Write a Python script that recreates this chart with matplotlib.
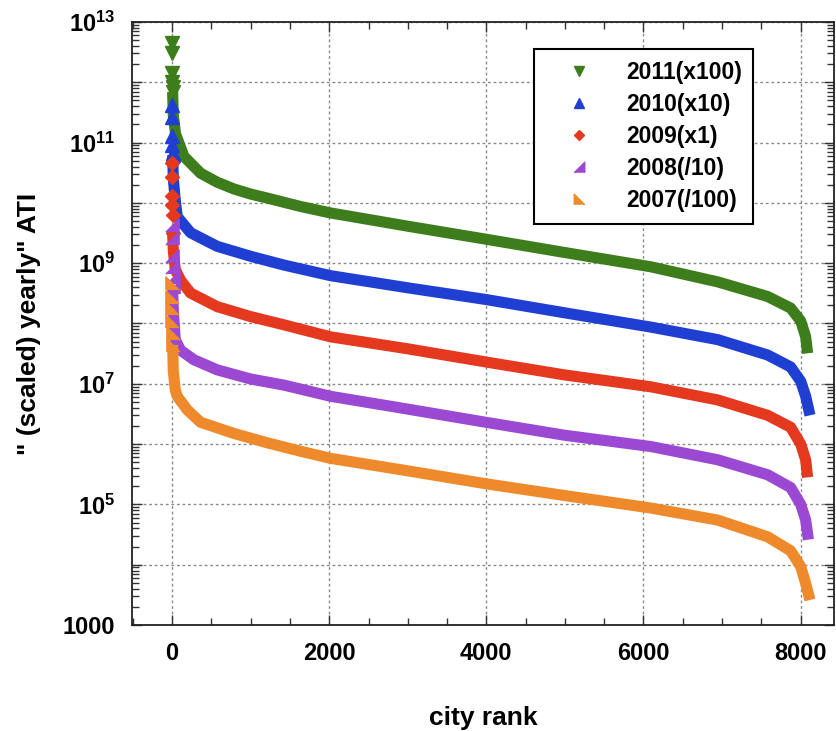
import numpy as np
import matplotlib
matplotlib.use("Agg")
import matplotlib.pyplot as plt
from matplotlib.ticker import LogLocator, FixedLocator, FuncFormatter, NullFormatter

# ============================================================================
# DATA
# ============================================================================

RANK_2011 = [1, 2, 3, 4, 5, 6, 15, 43, 150, 362, 574, 786, 999, 1211, 1636,
             2017, 3000, 3992, 5000, 6095, 6944, 7581, 7874, 8002, 8065, 8090]
ATI_2011 = [4.5e12, 3.0e12, 1.4e12, 1.0e12, 8.3e11, 6.9e11, 2.8e11, 1.4e11,
            5.9e10, 3.1e10, 2.2e10, 1.7e10, 1.4e10, 1.2e10, 8.7e9,
            6.8e9, 4.1e9, 2.5e9, 1.5e9, 8.7e8, 4.9e8, 2.8e8, 1.8e8, 1.1e8,
            6.0e7, 3.2e7]

RANK_2010 = [1, 2, 3, 4, 5, 6, 15, 40, 65, 234, 574, 999, 1423, 2017, 3000,
             3992, 5000, 6095, 6944, 7581, 7874, 8002, 8065, 8120]
ATI_2010 = [4.2e11, 2.7e11, 1.3e11, 9.1e10, 6.6e10, 6.2e10, 2.5e10, 1.1e10,
            5.9e9, 3.2e9, 1.9e9, 1.3e9, 9.3e8, 6.2e8, 3.9e8,
            2.5e8, 1.5e8, 8.7e7, 5.4e7, 3.0e7, 1.9e7, 1.1e7, 6.2e6, 3.0e6]

RANK_2009 = [1, 2, 3, 4, 5, 6, 15, 40, 107, 234, 574, 999, 1423, 2017, 3000,
             3992, 5000, 6095, 6944, 7581, 7874, 8002, 8065, 8090]
ATI_2009 = [4.5e10, 2.7e10, 1.3e10, 9.3e9, 6.3e9, 3.2e9, 1.6e9, 7.9e8,
            5.2e8, 3.2e8, 1.9e8, 1.3e8, 9.5e7, 6.0e7, 3.8e7,
            2.3e7, 1.4e7, 8.9e6, 5.4e6, 3.0e6, 1.9e6, 1.0e6, 5.5e5, 2.8e5]

RANK_2008 = [1, 2, 3, 4, 5, 6, 15, 40, 107, 277, 574, 999, 1423, 2017, 3000,
             3992, 5000, 6095, 6944, 7581, 7874, 8002, 8065, 8100]
ATI_2008 = [4.3e9, 2.6e9, 1.3e9, 8.7e8, 6.0e8, 4.0e8, 1.6e8, 5.4e7,
            3.6e7, 2.5e7, 1.7e7, 1.2e7, 9.5e6, 6.2e6, 3.8e6,
            2.3e6, 1.4e6, 9.1e5, 5.5e5, 3.1e5, 1.9e5, 1.0e5, 5.5e4, 2.6e4]

RANK_2007 = [1, 2, 3, 4, 5, 6, 15, 40, 65, 192, 362, 786, 1211, 1636, 2017,
             3000, 3992, 5000, 6095, 6944, 7581, 7874, 8002, 8065, 8120]
ATI_2007 = [4.7e8, 2.8e8, 1.8e8, 1.1e8, 6.9e7, 4.4e7, 1.6e7, 7.9e6,
            6.2e6, 3.7e6, 2.3e6, 1.5e6, 1.05e6, 7.6e5, 5.8e5,
            3.6e5, 2.2e5, 1.4e5, 8.7e4, 5.5e4, 2.9e4, 1.7e4, 9.3e3, 4.9e3, 2.6e3]

LABELS = ['2011(x100)', '2010(x10)', '2009(x1)', '2008(/10)', '2007(/100)']
X_TICKS = [0, 2000, 4000, 6000, 8000]

# ============================================================================
# STYLE
# ============================================================================

COLORS = ['#3d7d1c', '#1f3fd2', '#e4391f', '#9b48d2', '#ee8a2c']
MARKERS = ['v', '^', 'D',
           [(1, -1), (1, 1), (-1, -1)],     # right angle bottom-right
           [(-1, -1), (-1, 1), (1, -1)]]    # right angle bottom-left
MSIZES = [9.5, 9.5, 7, 9.5, 9.5]
N_TOP = 6   # top-ranked cities drawn as separate markers

plt.rcParams['font.family'] = ['Liberation Sans', 'DejaVu Sans']
plt.rcParams['font.weight'] = 'bold'
plt.rcParams['mathtext.fontset'] = 'custom'
plt.rcParams['mathtext.rm'] = 'Liberation Sans:bold'
plt.rcParams['mathtext.bf'] = 'Liberation Sans:bold'


def y_label_fmt(val, pos):
    exp = int(round(np.log10(val)))
    if exp % 2 == 0 or exp < 3 or exp > 13:
        return ''
    if exp == 3:
        return '1000'
    return r'$\mathbf{10^{%d}}$' % exp


def main():
    fig = plt.figure(figsize=(8.36, 7.31), dpi=100)
    ax = fig.add_axes([0.158, 0.145, 0.840, 0.825])

    ranks = [RANK_2011, RANK_2010, RANK_2009, RANK_2008, RANK_2007]
    series = [ATI_2011, ATI_2010, ATI_2009, ATI_2008, ATI_2007]
    for rk, vals, col, mk, ms, lab in zip(ranks, series, COLORS, MARKERS,
                                          MSIZES, LABELS):
        # dense band of cities
        ax.plot(rk[N_TOP - 1:], vals[N_TOP - 1:], '-', color=col, lw=8,
                solid_capstyle='butt', solid_joinstyle='round', zorder=2)
        # separated top-ranked cities
        ax.plot(rk[:N_TOP], vals[:N_TOP], linestyle='none', marker=mk,
                ms=ms, color=col, mec=col, zorder=3, label=lab)

    ax.set_yscale('log')
    ax.set_ylim(1e3, 1e13)
    ax.set_xlim(-510, 8430)

    ax.yaxis.set_major_locator(LogLocator(base=10, numticks=20))
    ax.yaxis.set_minor_locator(LogLocator(base=10, subs=np.arange(2, 10), numticks=200))
    ax.yaxis.set_major_formatter(FuncFormatter(y_label_fmt))
    ax.yaxis.set_minor_formatter(NullFormatter())
    ax.xaxis.set_major_locator(FixedLocator(X_TICKS))
    ax.xaxis.set_minor_locator(FixedLocator(np.arange(-500, 8500, 500)))

    ax.tick_params(which='both', direction='in', top=True, right=True,
                   width=1, color='#333333')
    ax.tick_params(which='major', length=7, labelsize=17, pad=12)
    ax.tick_params(which='minor', length=5)
    for lbl in ax.get_xticklabels() + ax.get_yticklabels():
        lbl.set_fontweight('bold')

    ax.grid(True, which='major', color='#8a8a8a', linestyle=(0, (2, 2)), lw=1)
    for sp in ax.spines.values():
        sp.set_linewidth(1.3)
        sp.set_color('#222222')

    ax.set_xlabel('city rank', fontsize=19, fontweight='bold', labelpad=30)
    ax.set_ylabel('" (scaled) yearly" ATI', fontsize=19, fontweight='bold',
                  labelpad=16)

    leg = ax.legend(loc='upper left', bbox_to_anchor=(0.573, 0.955),
                    prop={'size': 16.5, 'weight': 'bold'}, fancybox=False,
                    edgecolor='black', framealpha=1, handlelength=2.9,
                    handletextpad=0.6, borderpad=0.5, labelspacing=0.4,
                    borderaxespad=0, markerscale=0.8)
    leg.get_frame().set_linewidth(1.5)

    fig.savefig('out.png', dpi=100)
    plt.close(fig)


if __name__ == "__main__":
    main()
